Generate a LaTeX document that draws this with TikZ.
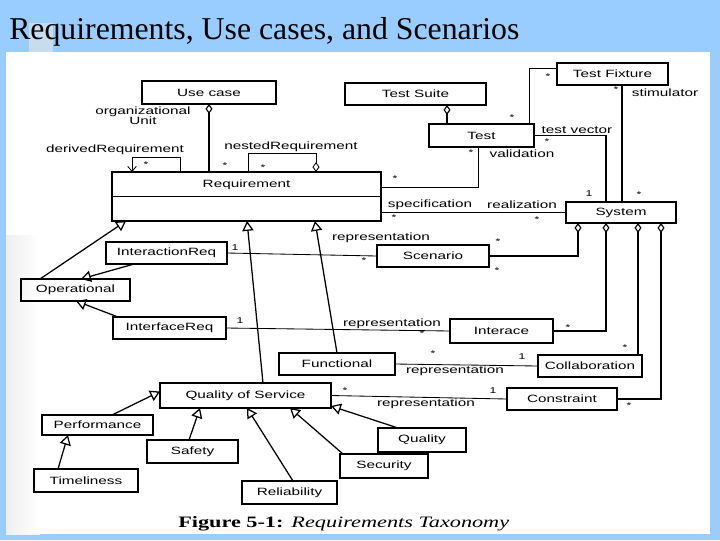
\documentclass[tikz,border=0pt]{standalone}
\usepackage{fontspec}
\setmainfont{Liberation Serif}
\newfontfamily\umlfont[FakeStretch=1.45]{Liberation Sans}
\newfontfamily\capfont[FakeStretch=1.4]{Liberation Serif}
\usepackage{xcolor}
\definecolor{slideblue}{HTML}{99CCFF}
\definecolor{marker}{HTML}{C8DCF0}
\usetikzlibrary{arrows.meta, calc}

\tikzset{
  cls/.style={draw, line width=0.9pt, inner sep=0pt, outer sep=0pt, font=\umlfont\fontsize{7.5}{8}\selectfont},
  lbl/.style={inner sep=0pt, font=\umlfont\fontsize{7.5}{7}\selectfont},
  mult/.style={inner sep=0pt, font=\umlfont\fontsize{6}{6}\selectfont},
  assoc/.style={line width=0.6pt},
  gen/.style={line width=0.9pt, -{Triangle[open, length=7pt, width=8pt]}},
  agg/.style={line width=0.8pt, {Diamond[open, length=7pt, width=5pt]}-},
  nav/.style={line width=0.6pt, -{Straight Barb[length=3.5pt, width=6pt]}},
}

% name, x1, y1, x2, y2, text (pixel units)
\providecommand{\UClass}[6]{%
  \node[cls, minimum width={(#4-#2)*0.025cm}, minimum height={(#5-#3)*0.025cm}] (#1) at ({(#2+#4)/2},{(#3+#5)/2}) {#6};%
}
\providecommand{\Lbl}[4]{\node[lbl] (#1) at (#2,#3) {#4};}
\providecommand{\Mult}[4]{\node[mult] (#1) at (#2,#3) {#4};}

\begin{document}
\begin{tikzpicture}[x=0.025cm, y=-0.025cm]
  \useasboundingbox (0,0) rectangle (720,540);
  \fill[slideblue] (0,0) rectangle (720,540);
  \fill[white] (6,52) rectangle (710,534);
  \shade[left color=gray!13, right color=white] (6,235) rectangle (40,534);
  \fill[marker] (29,23) rectangle (53,52);
  \node[anchor=base west, inner sep=0pt, font=\fontsize{22.6}{26}\selectfont] (title) at (9,39) {Requirements, Use cases, and Scenarios};

  % classes
  \UClass{usecase}{142}{81}{276}{104}{Use case}
  \UClass{testsuite}{345}{83}{486}{105}{Test Suite}
  \UClass{fixture}{557}{63}{668}{85}{Test Fixture}
  \UClass{test}{429}{124}{534}{147}{Test}
  \UClass{req}{112}{172}{381}{221}{}
  \node[lbl] (reqname) at ($(req.north)+(0,13)$) {Requirement};
  \draw[line width=0.5pt] ($(req.north west)+(0,24)$) -- ($(req.north east)+(0,24)$);
  \UClass{sys}{566}{202}{676}{223}{System}
  \UClass{ireq}{106}{242}{227}{264}{InteractionReq}
  \UClass{scen}{377}{245}{489}{267}{Scenario}
  \UClass{oper}{21}{279}{130}{301}{Operational}
  \UClass{ifreq}{113}{317}{226}{339}{InterfaceReq}
  \UClass{iface}{450}{319}{553}{343}{Interace}
  \UClass{func}{279}{353}{395}{375}{Functional}
  \UClass{collab}{538}{355}{642}{377}{Collaboration}
  \UClass{qos}{160}{383}{331}{408}{Quality of Service}
  \UClass{constr}{507}{388}{617}{410}{Constraint}
  \UClass{perf}{42}{415}{153}{435}{Performance}
  \UClass{safety}{147}{440}{238}{463}{Safety}
  \UClass{timel}{34}{469}{138}{492}{Timeliness}
  \UClass{relia}{242}{481}{337}{504}{Reliability}
  \UClass{secur}{340}{454}{428}{478}{Security}
  \UClass{qual}{378}{428}{466}{452}{Quality}

  % aggregations and associations at the top
  \draw[agg] (usecase.south) -- (usecase.south |- req.north);
  \draw[nav] ($(req.north west)+(68,0)$) -- ++(0,-15) -- ++(-48,0) -- ++(0,15);
  \draw[assoc, -{Diamond[open, length=7pt, width=5pt]}] ($(req.north west)+(136,0)$) -- ++(0,-19) -- ++(68,0) -- ++(0,19);
  \draw[agg] ($(testsuite.south west)+(102,0)$) coordinate (tsd) -- (tsd |- test.north);
  \draw[assoc] ($(fixture.north west)+(0,5)$) -| ($(test.north west)+(100,0)$);
  \draw[line width=0.8pt] ($(fixture.south west)+(65,0)$) coordinate (fxs) -- (fxs |- sys.north);
  \draw[line width=0.8pt] (test.east) -| ($(sys.north west)+(40,0)$);
  \draw[assoc] ($(test.south west)+(49,0)$) |- ($(req.north east)+(0,15)$);
  \draw[assoc] (req.east |- sys.west) -- (sys.west);

  % system parts
  \draw[agg] ($(sys.south west)+(12,0)$) |- (scen.east);
  \draw[agg] ($(sys.south west)+(40,0)$) |- (iface.east);
  \draw[agg] ($(sys.south west)+(72,0)$) coordinate (d3) -- (d3 |- collab.north);
  \draw[agg] ($(sys.south west)+(95,0)$) |- (constr.east);

  % representations
  \draw[assoc] (ireq.east) -- (scen.west);
  \draw[assoc] (ifreq.east) -- (iface.west);
  \draw[assoc] (func.east) -- (collab.west);
  \draw[assoc] (qos.east) -- (constr.west);

  % generalizations
  \draw[gen] ($(oper.north west)+(19,0)$) -- ($(req.south west)+(14,0)$);
  \draw[gen] ($(ireq.south west)+(28,0)$) -- ($(oper.north west)+(60,0)$);
  \draw[gen] ($(ifreq.north west)+(5,0)$) -- ($(oper.south west)+(55,0)$);
  \draw[gen] ($(qos.north west)+(103,0)$) -- ($(req.south west)+(135,0)$);
  \draw[gen] ($(func.north west)+(58,0)$) -- ($(req.south west)+(203,0)$);
  \draw[gen] ($(perf.north west)+(70,0)$) -- ($(qos.west)+(0,-4)$);
  \draw[gen] ($(safety.north west)+(42,0)$) -- ($(qos.south west)+(40,0)$);
  \draw[gen] ($(relia.north west)+(51,0)$) -- ($(qos.south west)+(87,0)$);
  \draw[gen] ($(secur.north west)+(3,0)$) -- ($(qos.south west)+(130,0)$);
  \draw[gen] ($(qual.north west)+(20,0)$) -- ($(qos.south east)+(0,-2)$);
  \draw[gen] ($(timel.north west)+(24,0)$) -- ($(perf.south west)+(26,0)$);

  % role names
  \node[lbl, align=center] (orgunit) at (143,116) {organizational\\Unit};
  \Lbl{derived}{115}{150}{derivedRequirement}
  \Lbl{nested}{291}{147}{nestedRequirement}
  \Lbl{testvec}{577}{130}{test vector}
  \Lbl{stim}{665}{93}{stimulator}
  \Lbl{valid}{522}{154}{validation}
  \Lbl{spec}{430}{205}{specification}
  \Lbl{realiz}{522}{205}{realization}
  \Lbl{repA}{381}{238}{representation}
  \Lbl{repB}{392}{324}{representation}
  \Lbl{repC}{455}{371}{representation}
  \Lbl{repD}{426}{404}{representation}

  % multiplicities
  \Mult{mA}{146}{165}{*}
  \Mult{mB}{225}{166}{*}
  \Mult{mC}{263}{168}{*}
  \Mult{mD}{548}{77}{*}
  \Mult{mE}{512}{118}{*}
  \Mult{mF}{616}{90}{*}
  \Mult{mG}{547}{142}{*}
  \Mult{mH}{471}{153}{*}
  \Mult{mI}{395}{179}{*}
  \Mult{mJ}{589}{194}{1}
  \Mult{mK}{639}{195}{*}
  \Mult{mL}{394}{218}{*}
  \Mult{mM}{537}{220}{*}
  \Mult{mN}{235}{248}{1}
  \Mult{mO}{364}{261}{*}
  \Mult{mP}{498}{242}{*}
  \Mult{mQ}{497}{271}{*}
  \Mult{mR}{240}{321}{1}
  \Mult{mS}{422}{334}{*}
  \Mult{mT}{568}{328}{*}
  \Mult{mU}{433}{354}{*}
  \Mult{mV}{522}{357}{1}
  \Mult{mW}{625}{348}{*}
  \Mult{mX}{345}{391}{*}
  \Mult{mY}{493}{391}{1}
  \Mult{mZ}{629}{406}{*}

  \node[anchor=base west, inner sep=0pt, font=\capfont\fontsize{11.3}{13}\selectfont] (caption) at (178,527) {\textbf{Figure 5-1:}\enspace\textit{Requirements Taxonomy}};
\end{tikzpicture}
\end{document}
